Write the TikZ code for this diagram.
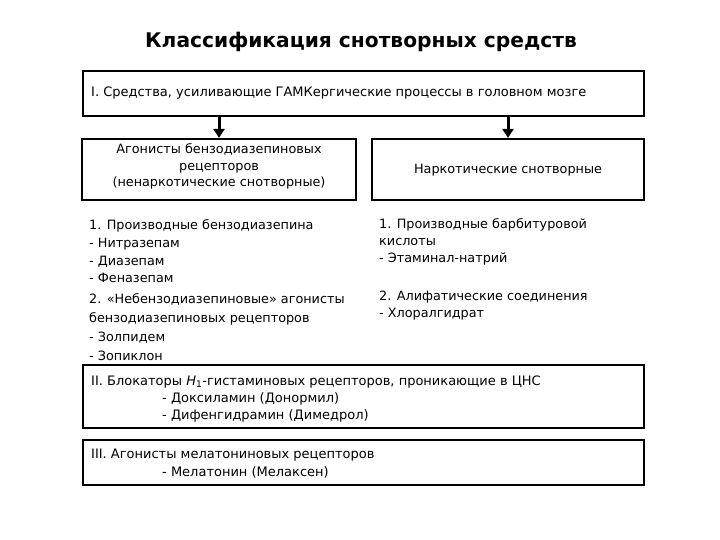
\documentclass[tikz,border=0pt]{standalone}
\usepackage{fontspec}
\setmainfont{DejaVu Sans}
\usetikzlibrary{arrows.meta}
\begin{document}
\begin{tikzpicture}[x=1pt,y=-1pt,
  box/.style={draw, line width=2.2pt, inner sep=0pt},
  txt/.style={font=\fontsize{13}{17.7}\selectfont, inner sep=0pt, align=left, anchor=west},
  ctxt/.style={font=\fontsize{12.8}{16.5}\selectfont, inner sep=0pt, align=center},
  arr/.style={-{Triangle[length=9pt,width=11pt]}, line width=3pt}]
\useasboundingbox[fill=white] (0,0) rectangle (720,540);
\node[inner sep=0pt] (title) at (361,42) {\fontsize{20.2}{24}\selectfont\bfseries Классификация снотворных средств};
% boxes
\node[box, minimum width=561pt, minimum height=45pt] (b1) at (363.5,93.5) {};
\node[box, minimum width=274pt, minimum height=61pt] (bl) at (219,169.5) {};
\node[box, minimum width=272pt, minimum height=61pt] (br) at (508,169.5) {};
\node[box, minimum width=561pt, minimum height=63pt] (b2) at (363.5,396.5) {};
\node[box, minimum width=561pt, minimum height=45pt] (b3) at (363.5,462.5) {};
% arrows
\draw[arr] (b1.south -| bl.north) -- (bl.north);
\draw[arr] (b1.south -| br.north) -- (br.north);
% texts
\node[txt] (t1) at (91,93) {I. Средства, усиливающие ГАМКергические процессы в головном мозге};
\node[ctxt] (tl) at (219,166.5) {Агонисты бензодиазепиновых\\рецепторов\\(ненаркотические снотворные)};
\node[ctxt] (tr) at (508,170) {Наркотические снотворные};
\node[txt, font=\fontsize{12.8}{17.7}\selectfont] (l1) at (89,251.5) {1. Производные бензодиазепина\\- Нитразепам\\- Диазепам\\- Феназепам};
\node[txt, font=\fontsize{12.8}{19}\selectfont] (l2) at (89,327) {2. «Небензодиазепиновые» агонисты\\бензодиазепиновых рецепторов\\- Золпидем\\- Зопиклон};
\node[txt, font=\fontsize{12.8}{17}\selectfont] (r1) at (379,242) {1. Производные барбитуровой\\кислоты\\- Этаминал-натрий};
\node[txt, font=\fontsize{12.8}{17}\selectfont] (r2) at (379,305.5) {2. Алифатические соединения\\- Хлоралгидрат};
\node[txt] (t2) at (91,382) {II. Блокаторы {\itshape H}\textsubscript{1}-гистаминовых рецепторов, проникающие в ЦНС};
\node[txt, font=\fontsize{13}{17}\selectfont] (t2a) at (162,407.5) {- Доксиламин (Донормил)\\- Дифенгидрамин (Димедрол)};
\node[txt] (t3) at (91,455) {III. Агонисты мелатониновых рецепторов};
\node[txt] (t3a) at (162,472) {- Мелатонин (Мелаксен)};
\end{tikzpicture}
\end{document}
